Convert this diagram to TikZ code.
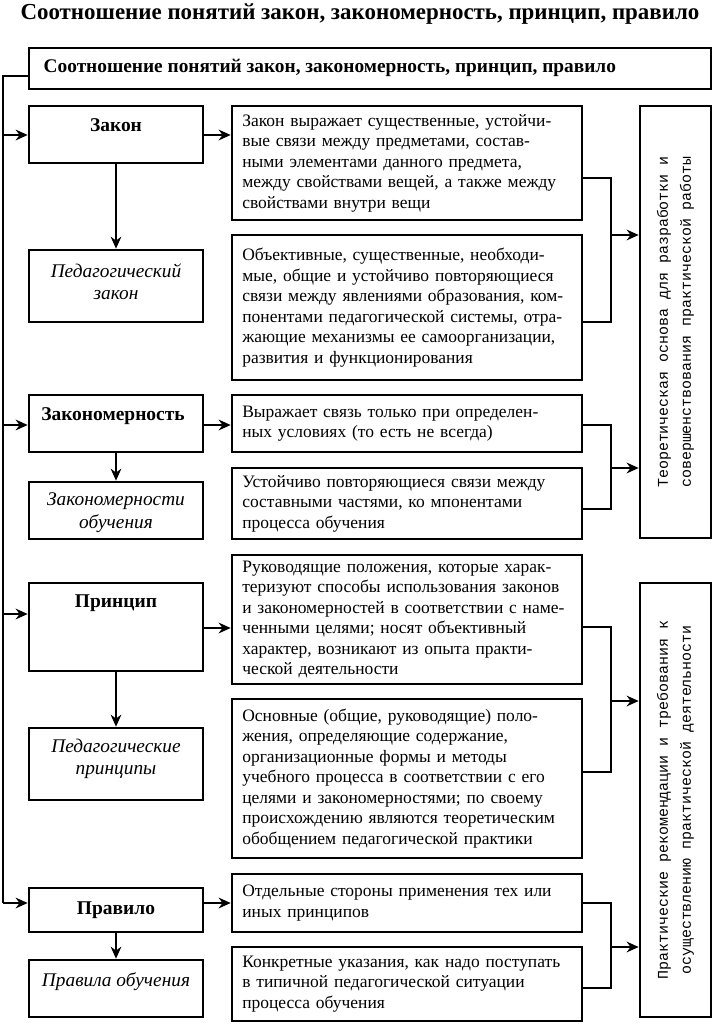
\documentclass[tikz,border=0pt]{standalone}
\usepackage{fontspec}
\setmainfont{Liberation Serif}
\newfontfamily\sidefont{Liberation Mono}
\usetikzlibrary{arrows.meta,fit}
\tikzset{
  box/.style={draw,line width=2pt,inner sep=0pt},
  side/.style={draw,line width=2pt,inner sep=0pt},
  line/.style={line width=1.6pt},
  arr/.style={line width=1.6pt,-{Stealth[length=9pt,width=8pt]}},
  down/.style={line width=1.1pt,-{Stealth[length=9pt,width=8pt]}},
  headtext/.style={font=\bfseries\fontsize{14.5}{16}\selectfont,anchor=west},
  concept/.style={font=\bfseries\fontsize{14.6}{17}\selectfont},
  kind/.style={font=\itshape\fontsize{14.5}{16.8}\selectfont,align=center},
  txt/.style={font=\fontsize{13.1}{15.4}\selectfont,align=left,text width=247pt},
  vert/.style={font=\sidefont\fontsize{11.2}{17.2}\selectfont,align=center,rotate=90}
}
\begin{document}
\begin{tikzpicture}[x=0.75pt,y=-0.75pt]
\useasboundingbox (0,0) rectangle (712,1024);
\node[font=\bfseries\fontsize{17.2}{20}\selectfont] (title) at (360,14) {Соотношение понятий закон, закономерность, принцип, правило};
% top box
\node[box,fit={(29,48) (711,89)}] (top) {};
\node[headtext] (toptext) at (39,68) {Соотношение понятий закон, закономерность, принцип, правило};
% left column
\node[box,fit={(29,106) (203,163)}] (zakon) {};
\node[concept] (zakontext) at (116,125) {Закон};
\node[box,fit={(29,250) (203,322)}] (pedzakon) {};
\node[kind] (pedzakontext) at (116,281.5) {Педагогический\\закон};
\node[box,fit={(29,395) (203,452)}] (zakonom) {};
\node[concept] (zakonomtext) at (113,416) {Закономерность};
\node[box,fit={(29,482) (203,539)}] (zakonob) {};
\node[kind] (zakonobtext) at (116,512.5) {Закономерности\\обучения};
\node[box,fit={(29,583) (203,671)}] (princ) {};
\node[concept] (princtext) at (116,603) {Принцип};
\node[box,fit={(29,728) (203,800)}] (pedprinc) {};
\node[kind] (pedprinctext) at (116,759) {Педагогические\\принципы};
\node[box,fit={(29,888) (203,932)}] (prav) {};
\node[concept] (pravtext) at (116,910) {Правило};
\node[box,fit={(29,960) (203,1017)}] (pravob) {};
\node[kind] (pravobtext) at (116,982) {Правила обучения};
% middle column
\node[box,fit={(232,106) (582,220)}] (m1) {};
\node[txt] (m1text) at (m1.center) {Закон выражает существенные, устойчи-\\вые связи между предметами, состав-\\ными элементами данного предмета,\\между свойствами вещей, а также между\\свойствами внутри вещи};
\node[box,fit={(232,235) (582,380)}] (m2) {};
\node[txt] (m2text) at (m2.center) {Объективные, существенные, необходи-\\мые, общие и устойчиво повторяющиеся\\связи между явлениями образования, ком-\\понентами педагогической системы, отра-\\жающие механизмы ее самоорганизации,\\развития и функционирования};
\node[box,fit={(232,395) (582,452)}] (m3) {};
\node[txt] (m3text) at (m3.center) {Выражает связь только при определен-\\ных условиях (то есть не всегда)};
\node[box,fit={(232,468) (582,539)}] (m4) {};
\node[txt] (m4text) at (m4.center) {Устойчиво повторяющиеся связи между\\составными частями, ко мпонентами\\процесса обучения};
\node[box,fit={(232,555) (582,684)}] (m5) {};
\node[txt] (m5text) at (m5.center) {Руководящие положения, которые харак-\\теризуют способы использования законов\\и закономерностей в соответствии с наме-\\ченными целями; носят объективный\\характер, возникают из опыта практи-\\ческой деятельности};
\node[box,fit={(232,699) (582,858)}] (m6) {};
\node[txt] (m6text) at (m6.center) {Основные (общие, руководящие) поло-\\жения, определяющие содержание,\\организационные формы и методы\\учебного процесса в соответствии с его\\целями и закономерностями; по своему\\происхождению являются теоретическим\\обобщением педагогической практики};
\node[box,fit={(232,874) (582,932)}] (m7) {};
\node[txt] (m7text) at (m7.center) {Отдельные стороны применения тех или\\иных принципов};
\node[box,fit={(232,947) (582,1021)}] (m8) {};
\node[txt] (m8text) at (m8.center) {Конкретные указания, как надо поступать\\в типичной педагогической ситуации\\процесса обучения};
% right column
\node[side,fit={(640,106) (711,538)}] (r1) {};
\node[vert] (r1text) at (r1.center) {Теоретическая основа для разработки и\\совершенствования практической работы};
\node[side,fit={(640,583) (711,1017)}] (r2) {};
\node[vert] (r2text) at (r2.center) {Практические рекомендации и требования к\\осуществлению практической деятельности};
% left spine
\coordinate (spine) at (3,76);
\draw[line] (top.west |- spine) -- (spine) -- (3,903);
\draw[arr] (3,135) -- (zakon.west |- 0,135);
\draw[arr] (3,425) -- (zakonom.west |- 0,425);
\draw[arr] (3,614) -- (princ.west |- 0,614);
\draw[arr] (3,903) -- (prav.west |- 0,903);
% downward
\draw[down] (zakon.south) -- (pedzakon.north);
\draw[down] (zakonom.south) -- (zakonob.north);
\draw[down] (princ.south) -- (pedprinc.north);
\draw[down] (prav.south) -- (pravob.north);
% to the middle
\draw[arr] (zakon.east |- 0,135) -- (m1.west |- 0,135);
\draw[arr] (zakonom.east |- 0,425) -- (m3.west |- 0,425);
\draw[arr] (princ.east |- 0,628) -- (m5.west |- 0,628);
\draw[arr] (prav.east |- 0,903) -- (m7.west |- 0,903);
% to the right
\coordinate (j1) at (611,235);
\coordinate (j2) at (611,468);
\coordinate (j3) at (611,701);
\coordinate (j4) at (611,947);
\draw[line] (m1.east |- 0,178) -| (j1) |- (m2.east |- 0,322);
\draw[line] (m3.east |- 0,425) -| (j2) |- (m4.east |- 0,509);
\draw[line] (m5.east |- 0,627) -| (j3) |- (m6.east |- 0,772);
\draw[line] (m7.east |- 0,903) -| (j4) |- (m8.east |- 0,988);
\draw[arr] (j1) -- (r1.west |- j1);
\draw[arr] (j2) -- (r1.west |- j2);
\draw[arr] (j3) -- (r2.west |- j3);
\draw[arr] (j4) -- (r2.west |- j4);
\end{tikzpicture}
\end{document}
